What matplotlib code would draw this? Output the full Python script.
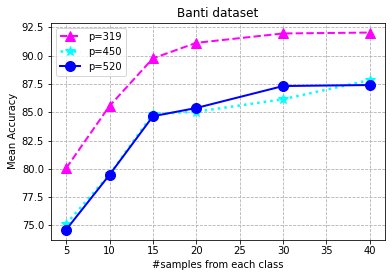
import matplotlib
matplotlib.use('Agg')
import matplotlib.pyplot as plt

samples = [5, 10, 15, 20, 30, 40]
acc_319 = [80.06, 85.56, 89.77, 91.14, 91.97, 92.05]
acc_450 = [75.12, 79.5, 84.85, 85.05, 86.15, 87.85]
acc_520 = [74.62, 79.47, 84.65, 85.38, 87.32, 87.41]

fig = plt.figure(figsize=(392 / 72, 278 / 72), dpi=72)
ax = fig.add_axes([51 / 392, 1 - 239.5 / 278, (385 - 51) / 392, (239.5 - 22.7) / 278])

ax.plot(samples, acc_319, color='magenta', linestyle='--', linewidth=2,
        marker='^', markersize=10, label='p=319')
ax.plot(samples, acc_450, color='cyan', linestyle=':', linewidth=2.5,
        marker='*', markersize=10, label='p=450')
ax.plot(samples, acc_520, color='blue', linestyle='-', linewidth=2,
        marker='o', markersize=10, label='p=520')

ax.set_xticks([5, 10, 15, 20, 25, 30, 35, 40])
ax.set_xlabel('#samples from each class')
ax.set_ylabel('Mean Accuracy')
ax.set_title('Banti dataset')
ax.grid(True, linestyle='--', color='#b0b0b0')
ax.legend(loc='upper left')

fig.savefig('out.png', dpi=72)
